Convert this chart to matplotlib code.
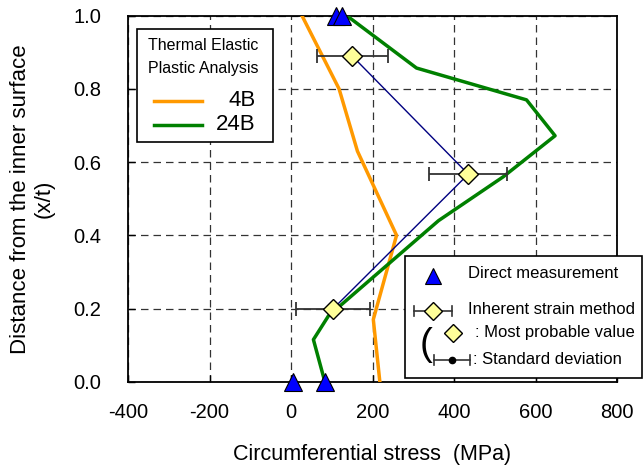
import matplotlib
matplotlib.use("Agg")
import matplotlib.pyplot as plt
from matplotlib.patches import Rectangle
from matplotlib.lines import Line2D

# ---- data -------------------------------------------------------------
depth_4b = [1.0, 0.80, 0.63, 0.40, 0.17, 0.0]
stress_4b = [27, 118, 163, 259, 202, 218]

depth_24b = [1.0, 0.857, 0.77, 0.672, 0.56, 0.44, 0.18, 0.115, 0.0]
stress_24b = [137, 308, 578, 648, 521, 362, 92, 55, 83]

direct_depth = [1.0, 1.0, 0.0, 0.0]
direct_stress = [110, 125, 6, 84]

inherent_depth = [0.89, 0.567, 0.20]
inherent_stress = [150, 435, 104]
inherent_sd = [87, 96, 91]

xticks = [-400, -200, 0, 200, 400, 600, 800]
yticks = [0.0, 0.2, 0.4, 0.6, 0.8, 1.0]

plt.rcParams["font.family"] = ["Liberation Sans", "DejaVu Sans"]

W, H = 644, 467
fig = plt.figure(figsize=(W / 100, H / 100), dpi=100)


def fx(px):
    return px / W


def fy(py):
    return 1 - py / H


ax = fig.add_axes([fx(128), fy(381.7), fx(617) - fx(128), fy(15.7) - fy(381.7)])
ax.set_xlim(-400, 800)
ax.set_ylim(0, 1.0)
ax.set_xticks(xticks)
ax.set_yticks(yticks)
ax.set_xticklabels([str(v) for v in xticks])
ax.set_yticklabels([f"{v:.1f}" for v in yticks])
ax.tick_params(direction="in", length=5, width=1, labelsize=14.5)
ax.tick_params(axis="x", pad=15)
ax.tick_params(axis="y", pad=19)
for s in ax.spines.values():
    s.set_linewidth(1.3)
ax.grid(True, color="#333333", linestyle=(0, (6, 4)), linewidth=0.9)
ax.set_axisbelow(True)

ax.set_xlabel("Circumferential stress  (MPa)", fontsize=15.5, labelpad=16)
ax.set_ylabel("Distance from the inner surface\n(x/t)", fontsize=16,
              labelpad=14, linespacing=1.15)

ax.plot(stress_4b, depth_4b, color="#FF9900", lw=2.5, zorder=3)
ax.plot(stress_24b, depth_24b, color="#008000", lw=2.5, zorder=3)
ax.plot(inherent_stress, inherent_depth, color="#000080", lw=1.0, zorder=3)
ax.errorbar(inherent_stress, inherent_depth, xerr=inherent_sd, fmt="none",
            ecolor="#333333", elinewidth=1.3, capsize=5, capthick=1.3, zorder=4)
ax.plot(inherent_stress, inherent_depth, ls="none", marker="D", ms=10,
        mfc="#FFFF99", mec="black", mew=1.0, zorder=5)
ax.plot(direct_stress, direct_depth, ls="none", marker="^", ms=13,
        mfc="#0000FF", mec="black", mew=0.8, zorder=6, clip_on=False)

# ---- legend: analysis curves -----------------------------------------
fig.add_artist(Rectangle((fx(137), fy(142)), fx(273) - fx(137), fy(29) - fy(142),
                         transform=fig.transFigure, fill=True, fc="white",
                         ec="black", lw=1.2, zorder=10))
fig.text(fx(203), fy(46), "Thermal Elastic", fontsize=11.5,
         ha="center", va="center", zorder=11)
fig.text(fx(203), fy(69), "Plastic Analysis", fontsize=11.5,
         ha="center", va="center", zorder=11)
fig.add_artist(Line2D([fx(154), fx(202)], [fy(101), fy(101)], color="#FF9900",
                      lw=2.5, transform=fig.transFigure, zorder=11))
fig.add_artist(Line2D([fx(154), fx(202)], [fy(125), fy(125)], color="#008000",
                      lw=2.5, transform=fig.transFigure, zorder=11))
fig.text(fx(256), fy(101), "4B", fontsize=16, ha="right", va="center", zorder=11)
fig.text(fx(256), fy(125), "24B", fontsize=16, ha="right", va="center", zorder=11)

# ---- legend: measurement methods -------------------------------------
fig.add_artist(Rectangle((fx(405), fy(378)), fx(642) - fx(405), fy(256) - fy(378),
                         transform=fig.transFigure, fill=True, fc="white",
                         ec="black", lw=1.2, zorder=10))
fig.add_artist(Line2D([fx(433)], [fy(276)], ls="none", marker="^", ms=11,
                      mfc="#0000FF", mec="black", mew=0.8,
                      transform=fig.transFigure, zorder=11))
fig.text(fx(468), fy(274), "Direct measurement", fontsize=12,
         ha="left", va="center", zorder=11)

fig.add_artist(Line2D([fx(414), fx(452)], [fy(311), fy(311)], color="#333333",
                      lw=1.2, transform=fig.transFigure, zorder=11))
for px in (414, 452):
    fig.add_artist(Line2D([fx(px), fx(px)], [fy(306), fy(316)], color="#333333",
                          lw=1.2, transform=fig.transFigure, zorder=11))
fig.add_artist(Line2D([fx(433)], [fy(311)], ls="none", marker="D", ms=9,
                      mfc="#FFFF99", mec="black", mew=1.0,
                      transform=fig.transFigure, zorder=12))
fig.text(fx(468), fy(310), "Inherent strain method", fontsize=12,
         ha="left", va="center", zorder=11)

fig.text(fx(420), fy(345), "(", fontsize=28, ha="left",
         va="center", zorder=11)
fig.add_artist(Line2D([fx(453)], [fy(333)], ls="none", marker="D", ms=9,
                      mfc="#FFFF99", mec="black", mew=1.0,
                      transform=fig.transFigure, zorder=12))
fig.text(fx(475), fy(332), ": Most probable value", fontsize=12,
         ha="left", va="center", zorder=11)

fig.add_artist(Line2D([fx(434), fx(470)], [fy(360), fy(360)], color="#333333",
                      lw=1.2, transform=fig.transFigure, zorder=11))
for px in (434, 470):
    fig.add_artist(Line2D([fx(px), fx(px)], [fy(355), fy(365)], color="#333333",
                          lw=1.2, transform=fig.transFigure, zorder=11))
fig.add_artist(Line2D([fx(452)], [fy(360)], ls="none", marker="o", ms=4.5,
                      mfc="black", mec="black", transform=fig.transFigure, zorder=12))
fig.text(fx(473), fy(359), ": Standard deviation", fontsize=12,
         ha="left", va="center", zorder=11)

fig.savefig("out.png", dpi=100)
